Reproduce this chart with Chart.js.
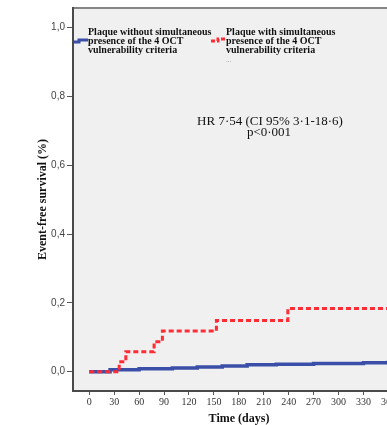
<!DOCTYPE html>
<html>
<head>
<meta charset="utf-8">
<script src="https://cdn.jsdelivr.net/npm/chart.js@4.4.0/dist/chart.umd.min.js"></script>
<style>
  html, body { margin: 0; padding: 0; background: #fff; overflow: hidden; width: 387px; height: 425px; }
  canvas { display: block; }
</style>
</head>
<body>
<canvas id="km" width="405" height="425"></canvas>
<script>
// Kaplan-Meier style curves (days, cumulative value)
const blueDays = [0, 25, 60, 100, 130, 160, 190, 225, 270, 330, 360, 380];
const blueValues = [0, 0.006, 0.009, 0.011, 0.014, 0.017, 0.020, 0.022, 0.024, 0.026, 0.028, 0.028];
const redDays = [0, 36, 44, 78, 88, 153, 239, 380];
const redValues = [0, 0.029, 0.058, 0.087, 0.118, 0.149, 0.184, 0.184];

const xTicks = [0, 30, 60, 90, 120, 150, 180, 210, 240, 270, 300, 330, 360];
const yTicks = [0, 0.2, 0.4, 0.6, 0.8, 1.0];

const legendBlue = ['Plaque without simultaneous', 'presence of the 4 OCT', 'vulnerability criteria'];
const legendRed = ['Plaque with simultaneous', 'presence of the 4 OCT', 'vulnerability criteria'];
const hrText = ['HR 7·54 (CI 95% 3·1-18·6)', 'p<0·001'];

const BLUE = '#3b4fa8';
const RED = '#ff2b35';
const SERIF = '"Liberation Serif", "DejaVu Serif", serif';

const toPoints = (xs, ys) => xs.map((x, i) => ({ x: x, y: ys[i] }));

const plotDecor = {
  id: 'plotDecor',
  beforeDraw(chart) {
    const { ctx, chartArea: a } = chart;
    ctx.save();
    ctx.fillStyle = '#f0f0f0';
    ctx.fillRect(a.left, a.top, a.right - a.left, a.bottom - a.top);
    // top frame line
    ctx.strokeStyle = '#858585';
    ctx.lineWidth = 2;
    ctx.beginPath();
    ctx.moveTo(a.left, a.top);
    ctx.lineTo(a.right, a.top);
    ctx.stroke();
    ctx.restore();
  },
  afterDraw(chart) {
    const ctx = chart.ctx;
    ctx.save();

    // legend samples
    ctx.lineWidth = 3;
    ctx.strokeStyle = BLUE;
    ctx.beginPath();
    ctx.moveTo(74, 42); ctx.lineTo(79, 42); ctx.lineTo(79, 40); ctx.lineTo(88, 40);
    ctx.stroke();

    ctx.strokeStyle = RED;
    ctx.setLineDash([4, 2]);
    ctx.beginPath();
    ctx.moveTo(211, 41); ctx.lineTo(218, 41); ctx.lineTo(218, 39); ctx.lineTo(225, 39);
    ctx.stroke();
    ctx.setLineDash([]);

    // legend text
    ctx.fillStyle = '#111';
    ctx.font = 'bold 10px ' + SERIF;
    ctx.textBaseline = 'middle';
    ctx.textAlign = 'left';
    legendBlue.forEach((t, i) => ctx.fillText(t, 88, 32 + i * 9));
    legendRed.forEach((t, i) => ctx.fillText(t, 226, 32 + i * 9));
    ctx.fillStyle = '#999';
    ctx.font = '7px ' + SERIF;
    ctx.fillText('...', 226, 60);

    // hazard ratio note
    ctx.fillStyle = '#111';
    ctx.font = '13px ' + SERIF;
    ctx.textAlign = 'center';
    ctx.fillText(hrText[0], 270, 122);
    ctx.fillText(hrText[1], 269, 133);
    ctx.restore();
  }
};

new Chart(document.getElementById('km').getContext('2d'), {
  type: 'line',
  data: {
    datasets: [
      {
        label: 'Plaque with simultaneous presence of the 4 OCT vulnerability criteria',
        data: toPoints(redDays, redValues),
        borderColor: RED,
        borderWidth: 3,
        borderDash: [5, 3],
        stepped: 'before',
        pointRadius: 0,
        fill: false
      },
      {
        label: 'Plaque without simultaneous presence of the 4 OCT vulnerability criteria',
        data: toPoints(blueDays, blueValues),
        borderColor: BLUE,
        borderWidth: 3.5,
        stepped: 'before',
        pointRadius: 0,
        fill: false
      }
    ]
  },
  options: {
    responsive: false,
    animation: false,
    devicePixelRatio: 1,
    layout: { padding: { top: 7, left: 0, right: 0, bottom: 0 } },
    plugins: {
      legend: { display: false },
      tooltip: { enabled: false }
    },
    scales: {
      x: {
        type: 'linear',
        min: -19.6,
        max: 380,
        afterFit: (scale) => { scale.height = 34; },
        afterBuildTicks: (scale) => { scale.ticks = xTicks.map(v => ({ value: v })); },
        ticks: {
          autoSkip: false,
          maxRotation: 0,
          minRotation: 0,
          padding: 1,
          color: '#333',
          font: { family: SERIF, size: 10 },
          callback: (v) => String(v)
        },
        grid: { drawOnChartArea: false, drawTicks: true, tickLength: 4, color: '#555', lineWidth: 1 },
        border: { display: true, color: '#4a4a4a', width: 2 },
        title: {
          display: true,
          text: 'Time (days)',
          color: '#111',
          font: { family: SERIF, size: 12, weight: 'bold', lineHeight: 1 },
          padding: { top: 0, bottom: 0 }
        }
      },
      y: {
        type: 'linear',
        min: -0.056,
        max: 1.057,
        afterFit: (scale) => { scale.width = 73; },
        afterBuildTicks: (scale) => { scale.ticks = yTicks.map(v => ({ value: v })); },
        ticks: {
          padding: 2,
          color: '#444',
          font: { family: '"Liberation Sans", Arial, sans-serif', size: 10 },
          callback: (v) => v.toFixed(1).replace('.', ',')
        },
        grid: { drawOnChartArea: false, drawTicks: true, tickLength: 6, color: '#555', lineWidth: 1 },
        border: { display: true, color: '#4a4a4a', width: 2 },
        title: {
          display: true,
          text: 'Event-free survival (%)',
          color: '#111',
          font: { family: SERIF, size: 12, weight: 'bold', lineHeight: 1.2 },
          padding: { top: 36, bottom: 0 }
        }
      }
    }
  },
  plugins: [plotDecor]
});
</script>
</body>
</html>
